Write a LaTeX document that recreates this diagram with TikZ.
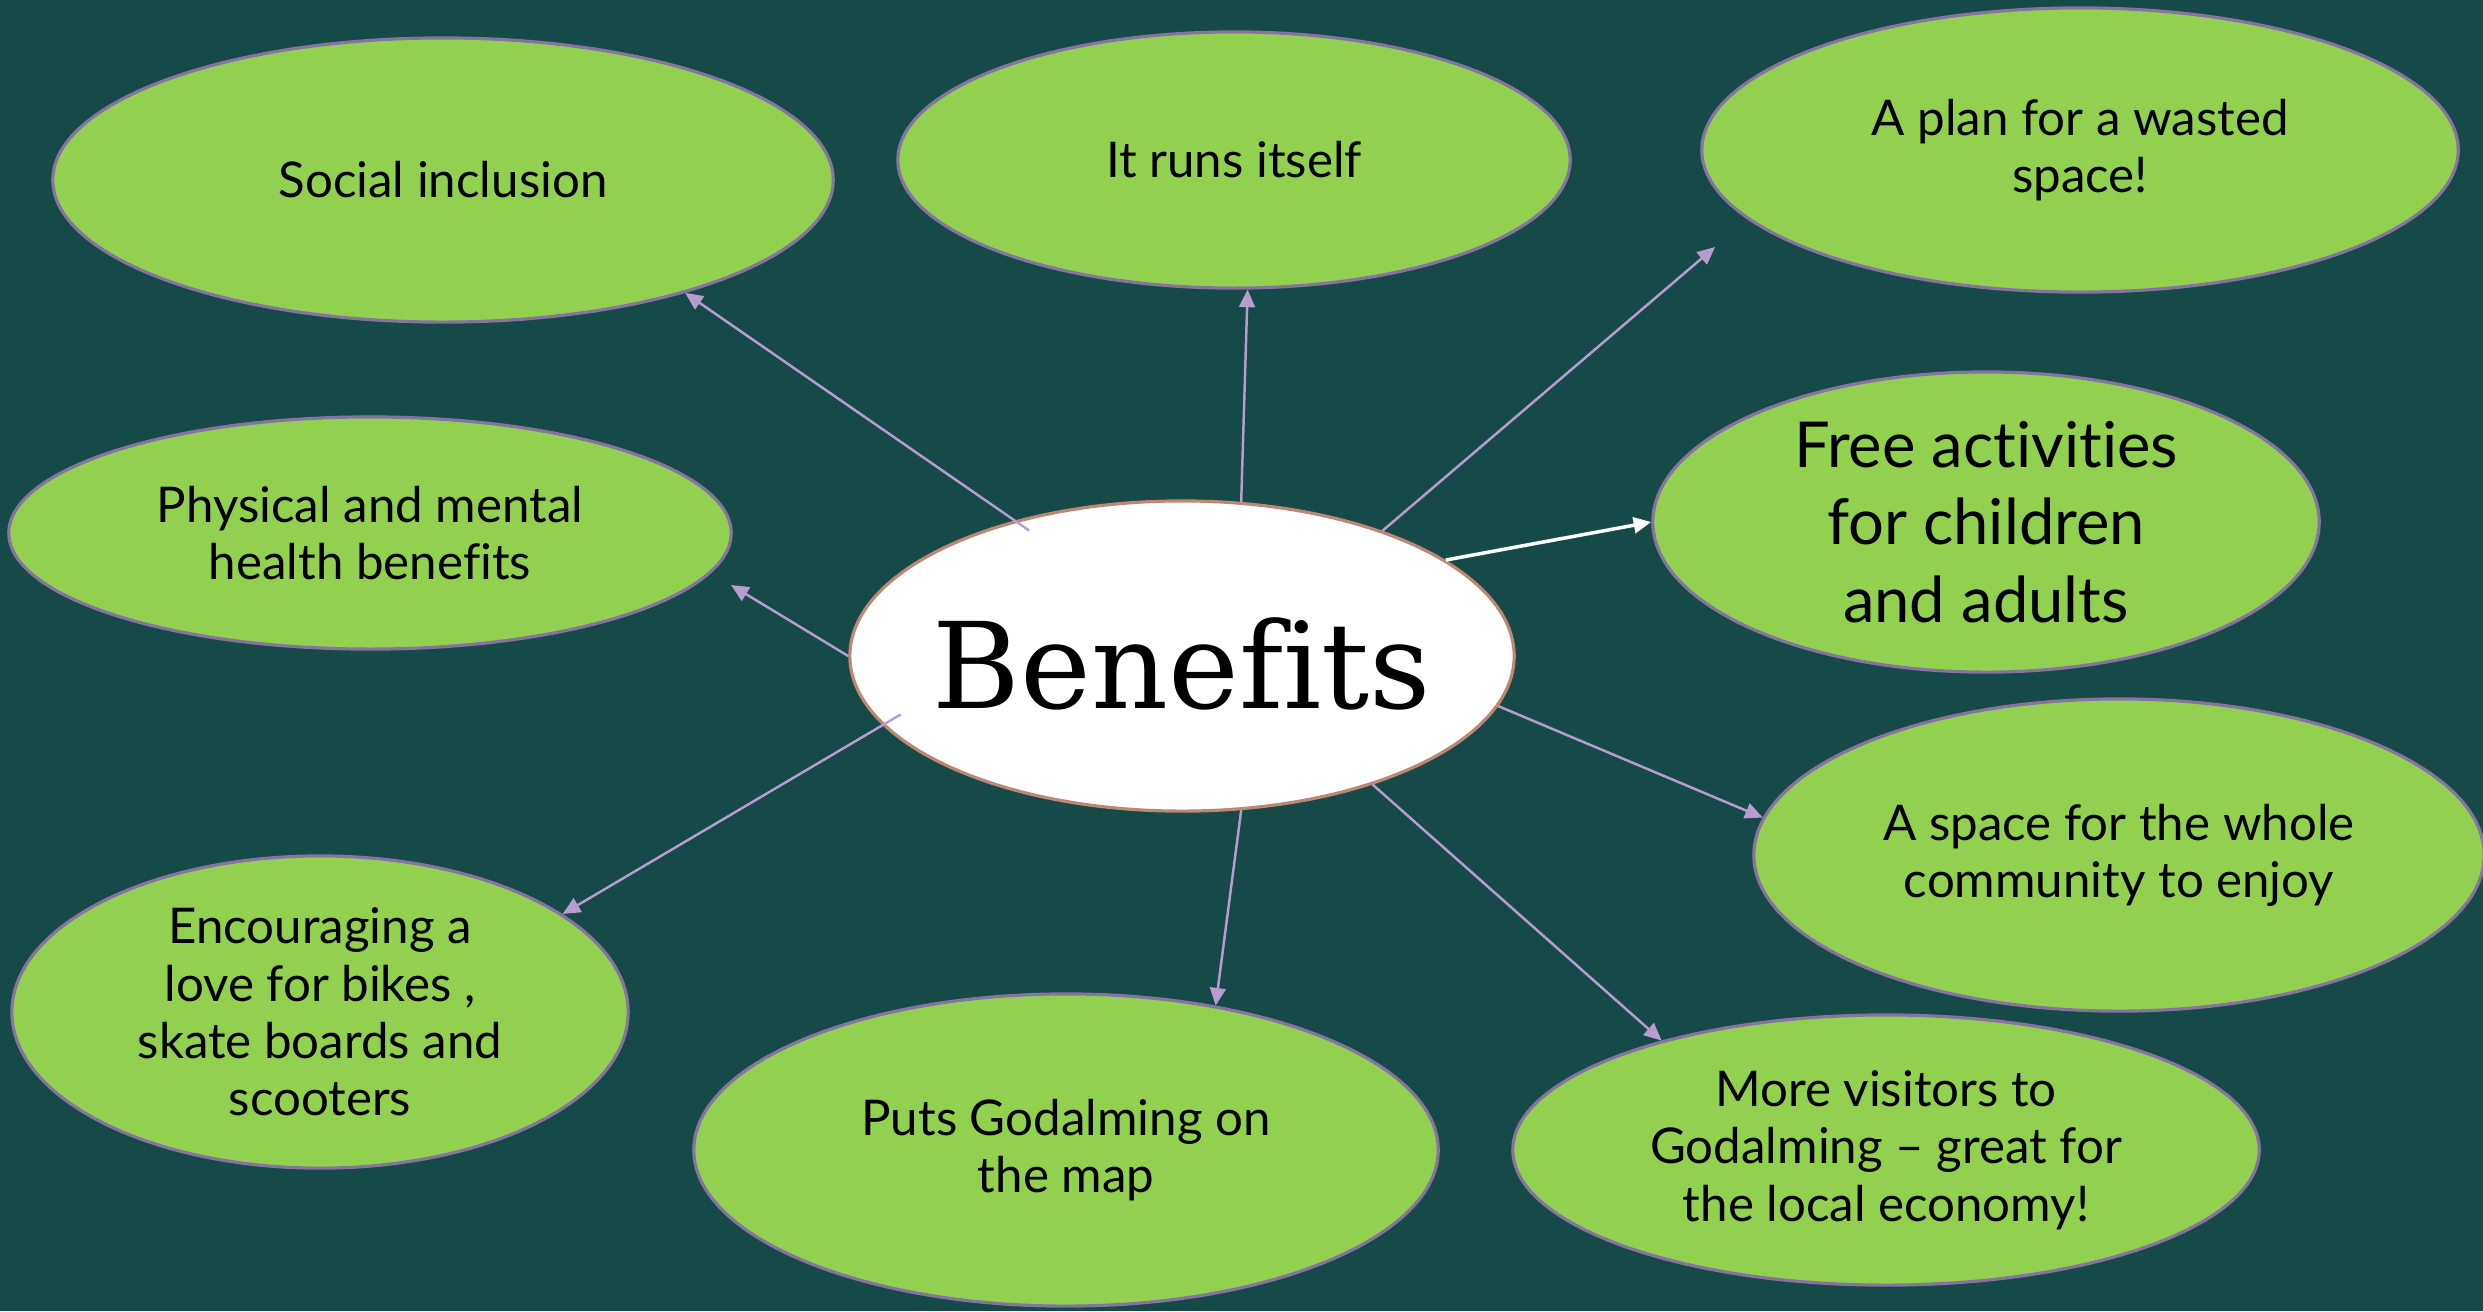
\documentclass[tikz,border=0pt]{standalone}
\usepackage{fontspec}
\setmainfont[Ligatures=NoCommon]{Lato}
\newfontfamily\headfont[Ligatures=NoCommon]{DejaVu Serif}
\usepackage{tikz}
\usetikzlibrary{shapes.geometric,arrows.meta}
\definecolor{deepteal}{RGB}{22,74,73}
\definecolor{leafgreen}{RGB}{146,208,80}
\definecolor{rimpurple}{RGB}{135,115,160}
\definecolor{linklilac}{RGB}{184,156,206}
\definecolor{rimbrown}{RGB}{190,135,115}

\begin{document}
\begin{tikzpicture}[x=0.01cm, y=-0.01cm,
  benefit/.style={draw=rimpurple, line width=0.9pt, fill=leafgreen, ellipse, inner sep=-1cm, align=center, font=\fontsize{14}{16.3}\selectfont},
  link/.style={draw=linklilac, line width=0.7pt, -{Triangle[length=5pt,width=4.5pt]}}]
  \useasboundingbox (0,0) rectangle (2483,1311);
  \fill[deepteal] (0,0) rectangle (2483,1311);

  \node[draw=rimbrown, line width=0.9pt, fill=white, ellipse, inner sep=-1cm, minimum width=6.64cm, minimum height=3.1cm, text height=30pt, text depth=0pt, font=\headfont\fontsize{34}{40}\selectfont] (benefits) at (1182,656) {Benefits};
  \node[benefit, minimum width=7.8cm, minimum height=2.84cm] (social) at (443,180) {Social inclusion};
  \node[benefit, minimum width=6.72cm, minimum height=2.56cm] (runs) at (1234,160) {It runs itself};
  \node[benefit, minimum width=7.56cm, minimum height=2.84cm] (plan) at (2080,150) {A plan for a wasted\\space!};
  \node[benefit, minimum width=7.22cm, minimum height=2.32cm] (physical) at (370,533) {Physical and mental\\health benefits};
  \node[benefit, minimum width=6.66cm, minimum height=3cm, font=\fontsize{18}{22}\selectfont] (free) at (1986,522) {Free activities\\for children\\and adults};
  \node[benefit, minimum width=7.3cm, minimum height=3.12cm] (space) at (2119,855) {A space for the whole\\community to enjoy};
  \node[benefit, minimum width=7.46cm, minimum height=2.7cm] (visitors) at (1886,1150) {More visitors to\\Godalming – great for\\the local economy!};
  \node[benefit, minimum width=7.44cm, minimum height=3.12cm] (puts) at (1066,1150) {Puts Godalming on\\the map};
  \node[benefit, minimum width=6.16cm, minimum height=3.12cm] (encourage) at (320,1012) {Encouraging a\\love for bikes ,\\skate boards and\\scooters};

  \coordinate (planend) at (1715,247);
  \coordinate (physend) at (731,585);

  \draw[link, shorten <=-5pt] (benefits.141) -- (social.-25);
  \draw[link] (benefits.69) -- (runs.-84);
  \draw[link] (benefits.32) -- (planend);
  \draw[link, draw=white, line width=1pt] (benefits.20) -- (free.180);
  \draw[link] (benefits.-9) -- (space.174);
  \draw[link] (benefits.-34) -- (visitors.154);
  \draw[link] (benefits.-69) -- (puts.44);
  \draw[link, shorten <=-6pt] (benefits.193) -- (encourage.22);
  \draw[link] (benefits.180) -- (physend);
\end{tikzpicture}
\end{document}
